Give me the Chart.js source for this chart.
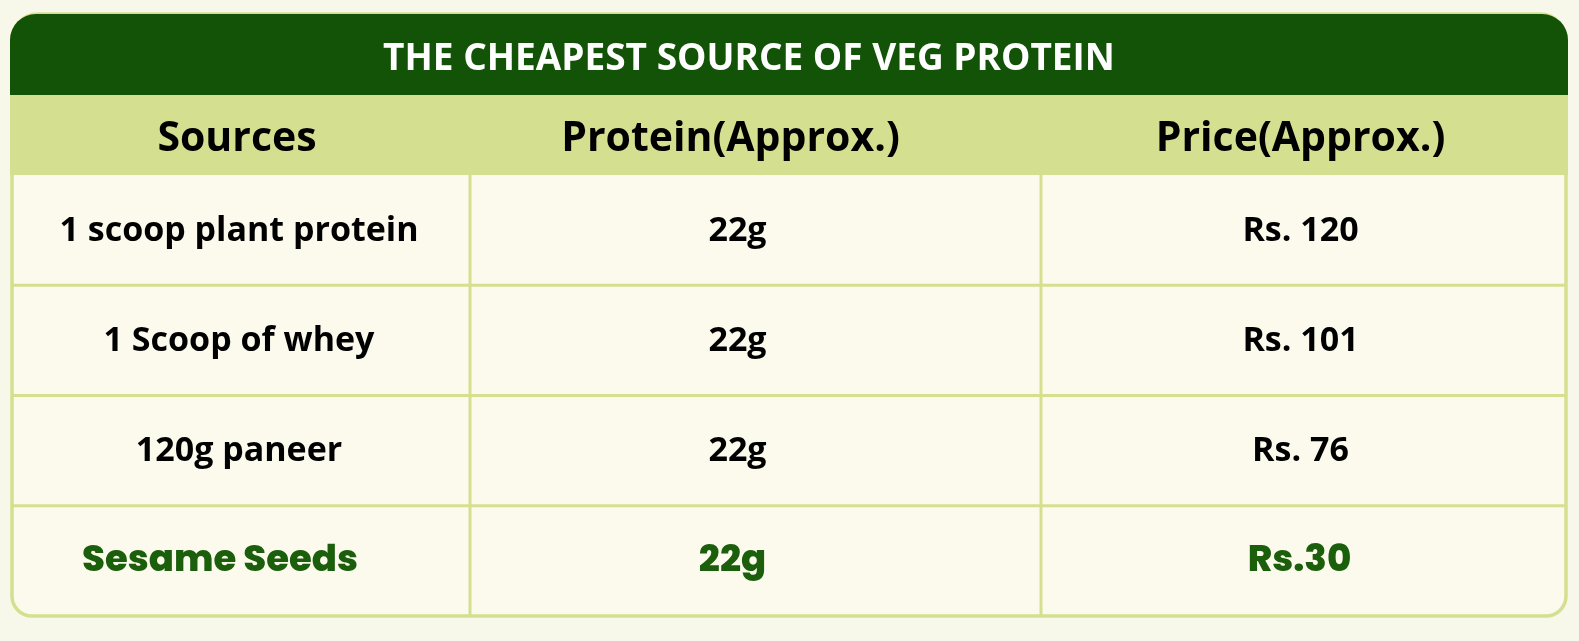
<!DOCTYPE html>
<html>
<head>
<meta charset="utf-8">
<script src="https://cdn.jsdelivr.net/npm/chart.js@4"></script>
<style>
  html, body { margin: 0; padding: 0; background: #f8f8ea; overflow: hidden; }
  canvas { display: block; }
</style>
</head>
<body>
<canvas id="proteinTable" width="1579" height="641"></canvas>
<script>
const title = "THE CHEAPEST SOURCE OF VEG PROTEIN";
const columns = ["Sources", "Protein(Approx.)", "Price(Approx.)"];
const sources = ["1 scoop plant protein", "1 Scoop of whey", "120g paneer", "Sesame Seeds"];
const proteinGrams = [22, 22, 22, 22];
const priceRs = [120, 101, 76, 30];
const priceLabels = ["Rs. 120", "Rs. 101", "Rs. 76", "Rs.30"];

const DARK_GREEN = "#135307";
const TEXT_GREEN = "#1b5e0b";
const HEADER_BG = "#d4e08f";
const CELL_BG = "#fbfaed";
const LINE = "#d4e08f";
const COL_WEIGHTS = [458, 571, 525];
const HEAD_SHIFT = [-4, -25, -3];
const TEXT_SHIFT = [-2, -18, -3];
const HL_SHIFT = [-21, -23, -4];
const TITLE_H = 81, HEADER_H = 80;

const cheapest = priceRs.indexOf(Math.min(...priceRs));

function columnEdges(area) {
    const total = COL_WEIGHTS.reduce((a, b) => a + b, 0);
    const edges = [area.left];
    let acc = 0;
    COL_WEIGHTS.forEach(w => {
        acc += w;
        edges.push(area.left + (area.right - area.left) * acc / total);
    });
    return edges;
}

const tablePlugin = {
    id: "tablePlugin",
    beforeDraw(chart) {
        const { ctx, chartArea: area, scales } = chart;
        const yScale = scales.y;
        const edges = columnEdges(area);
        const headTop = area.top - HEADER_H;
        const titleTop = headTop - TITLE_H;
        const w = area.right - area.left;

        ctx.save();
        ctx.fillStyle = "#f8f8ea";
        ctx.fillRect(0, 0, chart.width, chart.height);

        // body box
        ctx.beginPath();
        ctx.roundRect(area.left, titleTop, w, area.bottom - titleTop, [26, 26, 20, 20]);
        ctx.fillStyle = CELL_BG;
        ctx.fill();
        ctx.lineWidth = 3.5;
        ctx.strokeStyle = LINE;
        ctx.stroke();

        // title band
        ctx.beginPath();
        ctx.roundRect(area.left - 2, titleTop, w + 4, TITLE_H, [26, 26, 0, 0]);
        ctx.fillStyle = DARK_GREEN;
        ctx.fill();

        // header band
        ctx.fillStyle = HEADER_BG;
        ctx.fillRect(area.left - 2, headTop, w + 4, HEADER_H);

        // grid lines
        ctx.strokeStyle = LINE;
        ctx.lineWidth = 3;
        for (let i = 1; i < sources.length; i++) {
            const y = (yScale.getPixelForValue(i - 1) + yScale.getPixelForValue(i)) / 2;
            ctx.beginPath();
            ctx.moveTo(area.left, y);
            ctx.lineTo(area.right, y);
            ctx.stroke();
        }
        for (let c = 1; c < columns.length; c++) {
            ctx.beginPath();
            ctx.moveTo(edges[c], area.top);
            ctx.lineTo(edges[c], area.bottom);
            ctx.stroke();
        }

        ctx.textAlign = "center";
        ctx.textBaseline = "middle";

        // title
        ctx.fillStyle = "#ffffff";
        ctx.font = "700 37px 'Open Sans'";
        ctx.fillText(title, (area.left + area.right) / 2 - 40, titleTop + TITLE_H / 2 + 5);

        // header
        ctx.fillStyle = "#000000";
        ctx.font = "700 41px 'Open Sans'";
        columns.forEach((label, c) => {
            const cx = (edges[c] + edges[c + 1]) / 2 + HEAD_SHIFT[c];
            ctx.fillText(label, cx, headTop + HEADER_H / 2 + 4);
        });

        // cells
        sources.forEach((src, r) => {
            const y = yScale.getPixelForValue(r) + 1;
            const row = [src, proteinGrams[r] + "g", priceLabels[r]];
            const hl = r === cheapest;
            ctx.fillStyle = hl ? TEXT_GREEN : "#000000";
            ctx.font = hl ? "800 37px Poppins, Inter, sans-serif" : "700 34px 'Open Sans'";
            row.forEach((txt, c) => {
                const shift = hl ? HL_SHIFT[c] : TEXT_SHIFT[c];
                const cx = (edges[c] + edges[c + 1]) / 2 + shift;
                ctx.fillText(txt, cx, y);
            });
        });
        ctx.restore();
    }
};

new Chart(document.getElementById("proteinTable"), {
    type: "bar",
    data: { labels: columns, datasets: [] },
    options: {
        responsive: false,
        animation: false,
        events: [],
        layout: { padding: { top: 175, left: 12, right: 13, bottom: 25 } },
        plugins: { legend: { display: false }, tooltip: { enabled: false } },
        scales: {
            x: { type: "category", labels: columns, display: false },
            y: { type: "category", labels: sources, offset: true, display: false }
        }
    },
    plugins: [tablePlugin]
});
</script>
</body>
</html>
